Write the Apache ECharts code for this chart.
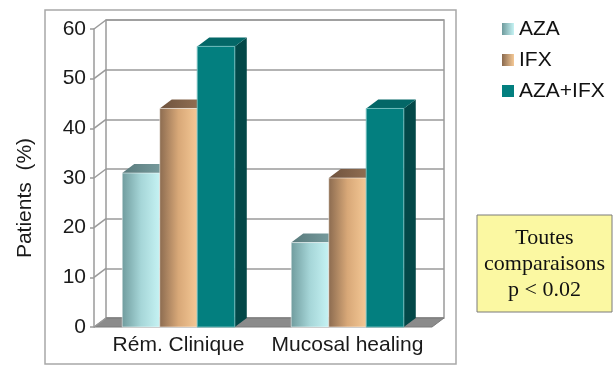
<!DOCTYPE html>
<html>
<head>
<meta charset="utf-8">
<script src="https://cdn.jsdelivr.net/npm/echarts@6/dist/echarts.min.js"></script>
<style>
html, body { margin: 0; padding: 0; background: #fff; }
#main { width: 614px; height: 370px; }
</style>
</head>
<body>
<div id="main"></div>
<script>
// data
var categories = ['Rém. Clinique', 'Mucosal healing'];
var seriesNames = ['AZA', 'IFX', 'AZA+IFX'];
var aza = [31, 17];
var ifx = [44, 30];
var azaIfx = [56.5, 44];
var yTicks = [0, 10, 20, 30, 40, 50, 60];

// 3d look
var DX = 12, DY = -9;
var BAR_RATIO = 0.222;
var FONT = "'Liberation Sans', Arial, sans-serif";

function hgrad(stops) {
    return new echarts.graphic.LinearGradient(0, 0, 1, 0, stops.map(function (c, i) {
        return { offset: i / (stops.length - 1), color: c };
    }));
}

var faces = [
    {   // AZA
        front: hgrad(['#6f9b9d', '#a6d6d8', '#c6f3f4']),
        top: hgrad(['#587a7c', '#7fa3a5']),
        side: '#4d7072',
        edge: 'rgba(255,255,255,0.5)'
    },
    {   // IFX
        front: hgrad(['#8a6a4f', '#d8a878', '#f5c996']),
        top: hgrad(['#6e523d', '#9a7658']),
        side: '#6a4f3a',
        edge: 'rgba(255,255,255,0.5)'
    },
    {   // AZA+IFX
        front: '#037f7f',
        top: '#036767',
        side: '#034848',
        edge: '#6cbaba'
    }
];
var legendColors = [hgrad(['#6f9b9d', '#c6f3f4']), hgrad(['#8a6a4f', '#f5c996']), '#037f7f'];

function barRender(idx) {
    return function (params, api) {
        var cat = api.value(0);
        var top = api.coord([cat, api.value(1)]);
        var base = api.coord([cat, 0]);
        var w = api.size([1, 0])[0] * BAR_RATIO;
        var x0 = top[0] + (idx - 1.5) * w;
        var x1 = x0 + w;
        var yt = top[1], yb = base[1];
        var f = faces[idx];
        return {
            type: 'group',
            children: [
                { type: 'polygon', shape: { points: [[x1, yt], [x1 + DX, yt + DY], [x1 + DX, yb + DY], [x1, yb]] },
                  style: { fill: f.side } },
                { type: 'polygon', shape: { points: [[x0, yt], [x1, yt], [x1 + DX, yt + DY], [x0 + DX, yt + DY]] },
                  style: { fill: f.top } },
                { type: 'rect', shape: { x: x0, y: yt, width: w, height: yb - yt },
                  style: { fill: f.front, stroke: f.edge, lineWidth: 1 } }
            ]
        };
    };
}

// floor + left wall lines
function wallRender(params, api) {
    var cs = params.coordSys;
    var p = api.coord([0, api.value(1)]);
    var x = cs.x;
    var children = [
        { type: 'line', shape: { x1: x, y1: p[1], x2: x + DX, y2: p[1] + DY },
          style: { stroke: '#9a9a9a', lineWidth: 1.5 } }
    ];
    if (api.value(1) === 0) {
        var yb = p[1];
        children.unshift({
            type: 'polygon',
            shape: { points: [[x, yb], [x + cs.width, yb], [x + cs.width + DX, yb + DY], [x + DX, yb + DY]] },
            style: { fill: '#8b8b8b', stroke: '#7a7a7a', lineWidth: 1 }
        });
    }
    return { type: 'group', children: children };
}

var allValues = [aza, ifx, azaIfx];
var series = [{
    type: 'custom',
    xAxisIndex: 0,
    yAxisIndex: 0,
    z: 1,
    silent: true,
    renderItem: wallRender,
    data: yTicks.map(function (v) { return [0, v]; })
}];
seriesNames.forEach(function (name, i) {
    series.push({
        name: name,
        type: 'custom',
        xAxisIndex: 0,
        yAxisIndex: 0,
        z: 3,
        itemStyle: { color: legendColors[i] },
        renderItem: barRender(i),
        data: allValues[i].map(function (v, c) { return [c, v]; })
    });
});

var myChart = echarts.init(document.getElementById('main'));
var option = {
    backgroundColor: '#fff',
    animation: false,
    grid: [
        { left: 94, right: 182, top: 29, bottom: 43 },
        { left: 94 + DX, right: 182 - DX, top: 29 + DY, bottom: 43 - DY, show: true,
          borderColor: '#9a9a9a', borderWidth: 1.5, backgroundColor: 'transparent' }
    ],
    xAxis: [
        { gridIndex: 0, type: 'category', data: categories,
          axisLine: { show: false }, axisTick: { show: false },
          axisLabel: { interval: 0, margin: 8, fontSize: 21, fontFamily: FONT, color: '#1a1a1a' } },
        { gridIndex: 1, type: 'category', data: categories, show: false }
    ],
    yAxis: [
        { gridIndex: 0, type: 'value', min: 0, max: 60, interval: 10,
          axisLine: { show: true, lineStyle: { color: '#9a9a9a', width: 1.5 } },
          axisTick: { show: true, length: 4, lineStyle: { color: '#9a9a9a', width: 1.5 } },
          splitLine: { show: false },
          axisLabel: { margin: 8, fontSize: 21, fontFamily: FONT, color: '#1a1a1a' } },
        { gridIndex: 1, type: 'value', min: 0, max: 60, interval: 10,
          axisLine: { show: false }, axisTick: { show: false }, axisLabel: { show: false },
          splitLine: { show: true, lineStyle: { color: '#9a9a9a', width: 1.5 } } }
    ],
    legend: {
        data: seriesNames,
        orient: 'vertical',
        left: 497,
        top: 13,
        icon: 'rect',
        itemWidth: 12,
        itemHeight: 12,
        itemGap: 9,
        textStyle: { fontSize: 21, fontFamily: FONT, color: '#111', lineHeight: 22 }
    },
    graphic: [
        { type: 'rect', z: -10, silent: true,
          shape: { x: 45, y: 10, width: 411, height: 354 },
          style: { fill: 'none', stroke: '#a8a8a8', lineWidth: 1.5 } },
        { type: 'text', x: 25, y: 198, rotation: Math.PI / 2,
          style: { text: 'Patients  (%)', fontSize: 21, fontFamily: FONT, fill: '#1a1a1a',
                   align: 'center', verticalAlign: 'middle' } },
        { type: 'rect', shape: { x: 477, y: 215, width: 135, height: 97 },
          style: { fill: '#fbf8a2', stroke: '#7a7a7a', lineWidth: 1 } },
        { type: 'text', x: 544.5, y: 264,
          style: { text: 'Toutes\ncomparaisons\np < 0.02', fontSize: 22, lineHeight: 26,
                   fontFamily: "'Liberation Serif', 'Times New Roman', serif", fill: '#111',
                   align: 'center', verticalAlign: 'middle' } }
    ],
    series: series
};
myChart.setOption(option);
</script>
</body>
</html>
